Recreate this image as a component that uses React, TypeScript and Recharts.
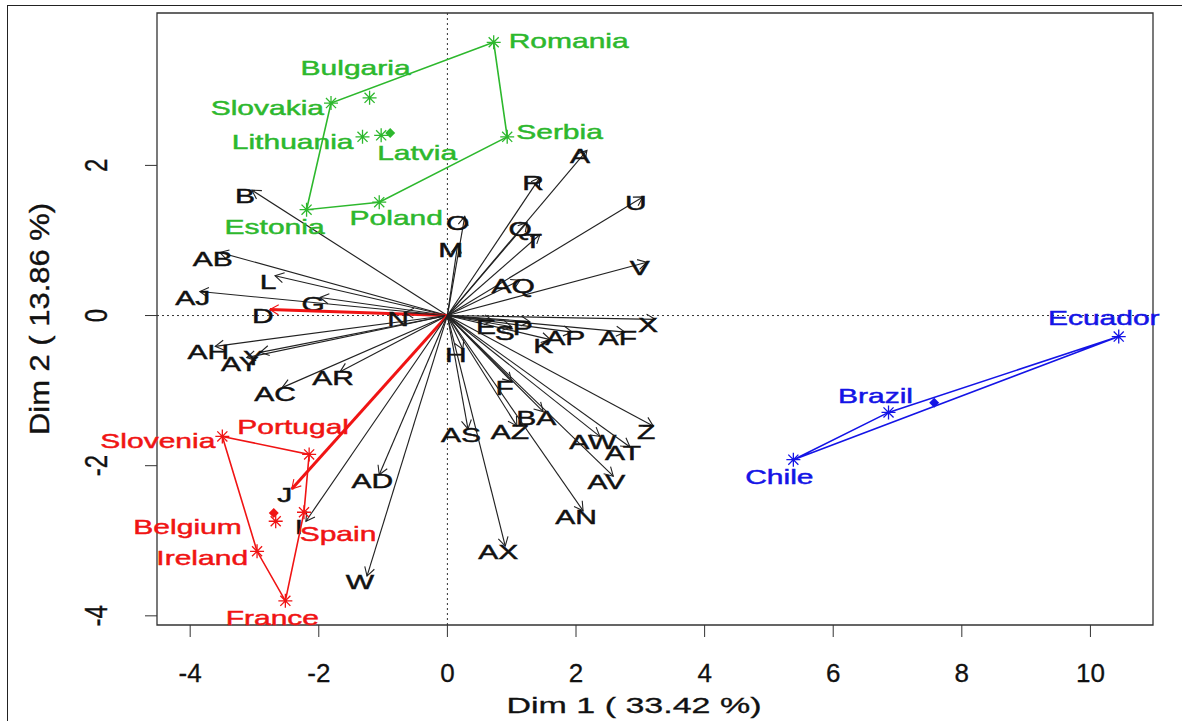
import React from 'react';
import {
  ScatterChart, Scatter, XAxis, YAxis, ReferenceLine, ReferenceArea
} from 'recharts';

// variable loadings (arrow tips)
const varNames = [
  'B', 'AB', 'L', 'AJ', 'G', 'D', 'N', 'AH', 'Y', 'AY', 'AR', 'AC', 'J', 'I', 'AD', 'W',
  'A', 'R', 'U', 'O', 'Q', 'T', 'M', 'V', 'AQ', 'X', 'AF', 'AP', 'K', 'P', 'S', 'E', 'H',
  'F', 'BA', 'AS', 'AZ', 'Z', 'AW', 'AT', 'AV', 'AN', 'AX',
];
const varDim1 = [
  -3.04, -3.54, -2.68, -3.85, -1.98, -2.76, -0.66, -3.61, -2.91, -3.12, -1.67, -2.57, -2.42, -2.2, -1.06, -1.25,
  2.17, 1.44, 3.04, 0.27, 1.24, 1.44, 0.16, 3.1, 1.13, 3.23, 2.76, 1.94, 1.6, 1.28, 1.0, 0.71, 0.24,
  1.0, 1.49, 0.32, 1.08, 3.2, 2.37, 2.84, 2.58, 2.11, 0.9,
];
const varDim2 = [
  1.67, 0.84, 0.53, 0.32, 0.24, 0.08, 0.04, -0.41, -0.49, -0.56, -0.75, -0.96, -2.31, -2.74, -2.12, -3.47,
  2.2, 1.84, 1.58, 1.32, 1.24, 1.08, 0.95, 0.71, 0.47, -0.05, -0.22, -0.22, -0.32, -0.08, -0.15, -0.07, -0.45,
  -0.88, -1.28, -1.51, -1.47, -1.47, -1.61, -1.75, -2.14, -2.6, -3.07,
];
const redVars = ['D', 'J'];

// individuals
const countryNames = [
  'Romania', 'Bulgaria', 'Slovakia', 'Lithuania', 'Latvia', 'Serbia', 'Poland', 'Estonia',
  'Slovenia', 'Portugal', 'Spain', 'Belgium', 'Ireland', 'France',
  'Ecuador', 'Brazil', 'Chile',
];
const countryDim1 = [
  0.72, -1.21, -1.81, -1.32, -1.03, 0.93, -1.06, -2.19,
  -3.5, -2.15, -2.23, -2.67, -2.96, -2.52,
  10.44, 6.86, 5.38,
];
const countryDim2 = [
  3.64, 2.9, 2.83, 2.38, 2.4, 2.38, 1.51, 1.41,
  -1.61, -1.85, -2.62, -2.74, -3.14, -3.8,
  -0.28, -1.29, -1.92,
];
const countryCluster = [0, 0, 0, 0, 0, 0, 0, 0, 1, 1, 1, 1, 1, 1, 2, 2, 2];

const hulls = [
  ['Romania', 'Serbia', 'Poland', 'Estonia', 'Slovakia', 'Romania'],
  ['Slovenia', 'Portugal', 'Spain', 'France', 'Ireland', 'Slovenia'],
  ['Ecuador', 'Brazil', 'Chile', 'Ecuador'],
];
const centerDim1 = [-0.89, -2.7, 7.57];
const centerDim2 = [2.43, -2.63, -1.16];

const xTicks = [-4, -2, 0, 2, 4, 6, 8, 10];
const yTicks = [-4, -2, 0, 2];
const xTitle = 'Dim  1 ( 33.42 %)';
const yTitle = 'Dim 2 ( 13.86 %)';

const clusterColors = ['#2db82d', '#f01414', '#1414e6'];
const FONT = 'Liberation Sans, Arial, Helvetica, sans-serif';

// label placement around each star (px offset, anchor)
const labelPos: Record<string, [number, number, string]> = {
  Romania: [15, -1, 'start'],
  Bulgaria: [-14, -30, 'middle'],
  Slovakia: [-7, 5, 'end'],
  Lithuania: [-9, 5, 'end'],
  Latvia: [36, 18, 'middle'],
  Serbia: [9, -5, 'start'],
  Poland: [17, 16, 'middle'],
  Estonia: [-32, 17, 'middle'],
  Slovenia: [-7, 5, 'end'],
  Portugal: [-16, -27, 'middle'],
  Spain: [34, 22, 'middle'],
  Belgium: [-34, 6, 'end'],
  Ireland: [-9, 7, 'end'],
  France: [-13, 17, 'middle'],
  Ecuador: [-15, -19, 'middle'],
  Brazil: [-13, -16, 'middle'],
  Chile: [-14, 17, 'middle'],
};

const WideText = ({ x, y, anchor = 'middle', fill = '#111', size = 20, children }: any) => (
  <text
    transform={`translate(${x},${y}) scale(1.5,1)`}
    textAnchor={anchor}
    dominantBaseline="central"
    fontSize={size}
    fontFamily={FONT}
    fill={fill}
    stroke={fill}
    strokeWidth={0.45}
  >
    {children}
  </text>
);

const Arrow = ({ x1, y1, x2, y2, name }: any) => {
  const red = redVars.includes(name);
  const color = red ? '#f01414' : '#222';
  const a = Math.atan2(y2 - y1, x2 - x1);
  const L = 10;
  const h1x = x2 - L * Math.cos(a - Math.PI / 6);
  const h1y = y2 - L * Math.sin(a - Math.PI / 6);
  const h2x = x2 - L * Math.cos(a + Math.PI / 6);
  const h2y = y2 - L * Math.sin(a + Math.PI / 6);
  return (
    <g>
      <line x1={x1} y1={y1} x2={x2} y2={y2} stroke={color} strokeWidth={red ? 3 : 1.15} />
      <path d={`M${h1x},${h1y}L${x2},${y2}L${h2x},${h2y}`} fill="none" stroke={color} strokeWidth={1.1} />
      <WideText x={x2 - 7} y={y2 + 6}>{name}</WideText>
    </g>
  );
};

const Star = ({ cx, cy, payload }: any) => {
  const color = clusterColors[payload.cluster];
  const r = 7;
  const d = r * 0.72;
  const [dx, dy, anchor] = labelPos[payload.name];
  return (
    <g>
      <path
        d={`M${cx - r},${cy}H${cx + r}M${cx},${cy - r}V${cy + r}M${cx - d},${cy - d}L${cx + d},${cy + d}M${cx - d},${cy + d}L${cx + d},${cy - d}`}
        stroke={color}
        strokeWidth={1.3}
      />
      <WideText x={cx + dx} y={cy + dy} anchor={anchor} fill={color} size={20}>
        {payload.name}
      </WideText>
    </g>
  );
};

const Center = ({ cx, cy, payload }: any) => (
  <path
    d={`M${cx},${cy - 5}L${cx + 5},${cy}L${cx},${cy + 5}L${cx - 5},${cy}Z`}
    fill={clusterColors[payload.cluster]}
  />
);

const XTick = ({ x, y, payload }: any) => (
  <text
    x={x}
    y={y + 36}
    textAnchor="middle"
    dominantBaseline="central"
    fontSize={26}
    fontFamily={FONT}
    fill="#111"
    stroke="#111"
    strokeWidth={0.3}
  >
    {payload.value}
  </text>
);

const YTick = ({ x, y, payload }: any) => (
  <text
    transform={`translate(${x - 49},${y}) scale(1.3,1) rotate(-90)`}
    textAnchor="middle"
    dominantBaseline="central"
    fontSize={24}
    fontFamily={FONT}
    fill="#111"
    stroke="#111"
    strokeWidth={0.3}
  >
    {payload.value}
  </text>
);

const countries = countryNames.map((name, i) => ({
  name,
  x: countryDim1[i],
  y: countryDim2[i],
  cluster: countryCluster[i],
}));
const hullData = (names: string[]) =>
  names.map((n) => countries.find((c) => c.name === n));
const centers = centerDim1.map((x, i) => ({ x, y: centerDim2[i], cluster: i }));

const xDomain = [-4.516, 10.973];
const yDomain = [-4.122, 4.03];

export default function App() {
  return (
    <div
      style={{
        position: 'absolute',
        left: 7,
        top: 5,
        width: 1175,
        height: 716,
        borderTop: '1px solid #222',
        borderLeft: '1px solid #222',
        boxSizing: 'border-box',
        background: '#fff',
        overflow: 'hidden',
      }}
    >
      <ScatterChart width={1174} height={715} margin={{ top: 7, right: 29, bottom: 0, left: 0 }}>
        <XAxis
          type="number"
          dataKey="x"
          domain={xDomain}
          ticks={xTicks}
          axisLine={false}
          tickLine={{ stroke: '#333' }}
          tickSize={12}
          tickMargin={0}
          tick={<XTick />}
          height={96}
          label={{
            content: ({ viewBox }: any) => (
              <text
                x={viewBox.x + viewBox.width / 2 - 21}
                y={viewBox.y + 80}
                textAnchor="middle"
                dominantBaseline="central"
                fontSize={22}
                fontFamily={FONT}
                fill="#111"
                stroke="#111"
                strokeWidth={0.3}
                textLength={255}
                lengthAdjust="spacingAndGlyphs"
              >
                {xTitle}
              </text>
            ),
          }}
        />
        <YAxis
          type="number"
          dataKey="y"
          domain={yDomain}
          ticks={yTicks}
          axisLine={false}
          tickLine={{ stroke: '#333' }}
          tickSize={12}
          tickMargin={0}
          tick={<YTick />}
          width={149}
          label={{
            content: ({ viewBox }: any) => (
              <text
                transform={`translate(${viewBox.x + 31},${viewBox.y + viewBox.height / 2}) scale(1.25,1) rotate(-90)`}
                textAnchor="middle"
                dominantBaseline="central"
                fontSize={22}
                fontFamily={FONT}
                fill="#111"
                stroke="#111"
                strokeWidth={0.3}
                textLength={232}
                lengthAdjust="spacingAndGlyphs"
              >
                {yTitle}
              </text>
            ),
          }}
        />
        <ReferenceArea
          x1={xDomain[0]}
          x2={xDomain[1]}
          y1={yDomain[0]}
          y2={yDomain[1]}
          fill="none"
          stroke="#333"
          strokeWidth={1.3}
          ifOverflow="visible"
        />
        <ReferenceLine x={0} stroke="#333" strokeDasharray="2 3" />
        <ReferenceLine y={0} stroke="#333" strokeDasharray="2 3" />
        {varNames.map((n, i) => (
          <ReferenceLine
            key={n}
            segment={[{ x: 0, y: 0 }, { x: varDim1[i], y: varDim2[i] }]}
            ifOverflow="visible"
            shape={(p: any) => <Arrow {...p} name={n} />}
          />
        ))}
        {hulls.map((h, k) => (
          <Scatter
            key={k}
            data={hullData(h)}
            line={{ stroke: clusterColors[k], strokeWidth: 1.6 }}
            shape={() => <g />}
            isAnimationActive={false}
          />
        ))}
        <Scatter data={countries} shape={<Star />} isAnimationActive={false} />
        <Scatter data={centers} shape={<Center />} isAnimationActive={false} />
      </ScatterChart>
    </div>
  );
}
